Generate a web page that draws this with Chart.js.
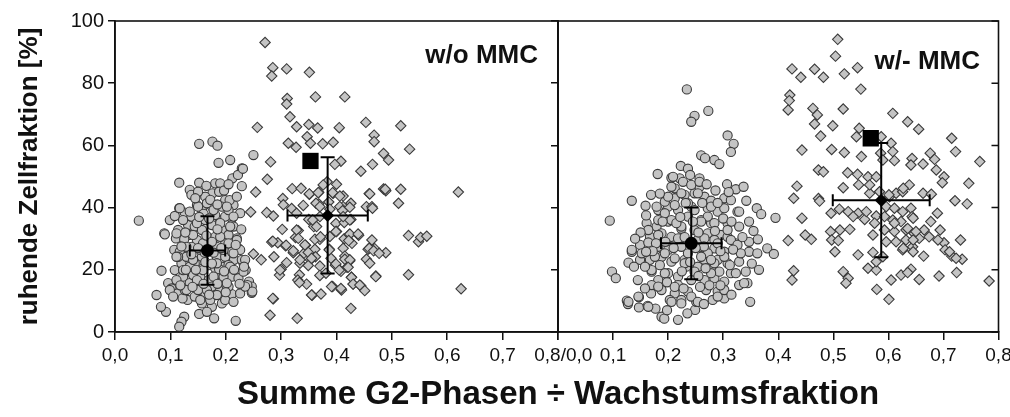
<!DOCTYPE html>
<html lang="de">
<head>
<meta charset="utf-8">
<title>Ruhende Zellfraktion</title>
<script src="https://cdn.jsdelivr.net/npm/chart.js@4.4.1/dist/chart.umd.min.js"></script>
<style>
  html, body { margin: 0; padding: 0; background: #fff; }
  #wrap { position: relative; width: 1010px; height: 417px; overflow: hidden; background: #fff; }
  canvas { position: absolute; left: 0; top: 0; }
  .label { position: absolute; font-family: "Liberation Sans", Arial, sans-serif; font-weight: bold; color: #111; line-height: 1; white-space: nowrap; }
  #lblOhne { font-size: 26px; right: 472px; top: 41px; }
  #lblMit { font-size: 26px; right: 30px; top: 47px; }
  #xTitle { font-size: 33px; left: 0; width: 1116px; text-align: center; top: 376px; }
</style>
</head>
<body>
<div id="wrap">
  <canvas id="links" width="1010" height="417"></canvas>
  <canvas id="rechts" width="1010" height="417"></canvas>
  <div class="label" id="lblOhne">w/o MMC</div>
  <div class="label" id="lblMit">w/- MMC</div>
  <div class="label" id="xTitle">Summe G2-Phasen ÷ Wachstumsfraktion</div>
</div>
<script>
// Achsen
const xLabelsLinks = ['0,0', '0,1', '0,2', '0,3', '0,4', '0,5', '0,6', '0,7', '  0,8/0,0'];
const xLabelsRechts = ['', '0,1', '0,2', '0,3', '0,4', '0,5', '0,6', '0,7', '0,8'];
const yTitel = 'ruhende Zellfraktion [%]';

// w/o MMC: Kreise (linke Wolke) und Rauten
const ohneKreise = [
  [0.043,35.8],[0.116,48.0],[0.152,48.0],[0.135,45.7],[0.138,44.1],[0.187,54.4],[0.208,55.3],[0.229,52.6],[0.212,49.4],[0.250,56.9],
  [0.229,46.9],[0.181,47.8],[0.190,47.8],[0.176,44.6],[0.163,43.5],[0.150,45.1],[0.199,42.4],[0.193,40.3],[0.226,38.2],[0.211,36.6],
  [0.211,34.4],[0.220,30.1],[0.223,26.9],[0.215,23.2],[0.232,22.1],[0.236,19.9],[0.242,16.2],[0.247,14.6],[0.247,12.6],[0.211,12.2],
  [0.193,11.4],[0.193,9.2],[0.175,8.1],[0.179,4.4],[0.218,3.6],[0.152,5.8],[0.125,4.9],[0.120,3.3],[0.116,1.7],[0.092,6.5],
  [0.083,8.1],[0.075,11.9],[0.084,19.7],[0.089,31.7],[0.099,36.0],[0.108,37.3],[0.116,39.8],[0.126,38.4],[0.110,30.1],[0.107,26.4],
  [0.117,25.8],[0.096,15.7],[0.102,14.0],[0.113,12.4],[0.108,19.9],[0.120,22.1],[0.123,17.8],[0.135,15.7],[0.131,10.3],[0.144,11.4],
  [0.157,9.2],[0.163,12.4],[0.172,10.3],[0.132,34.4],[0.144,33.9],[0.157,32.8],[0.175,34.4],[0.190,36.0],[0.135,31.2],[0.148,29.6],
  [0.159,28.5],[0.181,30.6],[0.193,32.8],[0.205,31.2],[0.199,28.5],[0.138,27.4],[0.129,24.2],[0.144,22.1],[0.157,24.2],[0.184,24.2],
  [0.199,24.2],[0.193,21.0],[0.181,17.8],[0.169,16.7],[0.154,17.8],[0.141,18.3],[0.199,16.7],[0.211,17.8],[0.205,14.6],[0.187,13.5],
  [0.175,14.6],[0.150,13.5],[0.122,10.8],[0.211,25.8],[0.214,40.8],[0.229,23.2],[0.175,40.3],[0.157,39.2],[0.138,37.1],[0.181,37.6],
  [0.199,37.1],[0.163,36.0],[0.148,40.8],[0.166,41.4],[0.188,45.1],[0.205,39.2],[0.114,24.2],[0.114,32.8],[0.125,29.8],[0.169,26.4],
  [0.184,27.4],[0.154,26.4],[0.135,21.0],[0.169,21.5],[0.181,20.5],[0.205,21.5],[0.159,20.5],[0.223,17.3],[0.232,19.4],[0.193,16.2],
  [0.126,13.5],[0.199,10.3],[0.214,9.7],[0.166,6.5],
  [0.152,60.5],[0.176,61.2],[0.185,59.9],[0.222,50.5],[0.207,42.4],[0.214,33.9],[0.235,23.2],[0.233,21.0],[0.239,15.1],[0.248,13.0],
  [0.090,31.4],[0.188,20.2],[0.196,17.8],[0.226,26.4],[0.231,52.5],
  [0.117,39.8],[0.135,38.7],[0.150,40.3],[0.178,39.2],[0.202,40.3],[0.214,37.1],[0.123,36.0],[0.148,35.0],[0.190,35.0],[0.208,33.9],
  [0.111,31.7],[0.141,31.2],[0.190,30.6],[0.220,29.6],[0.129,27.4],[0.196,26.4],[0.214,25.3],[0.111,24.2],[0.141,23.2],[0.184,22.1],
  [0.208,21.0],[0.123,19.9],[0.159,19.9],[0.178,17.8],[0.111,16.7],[0.148,16.7],[0.202,15.7],[0.129,13.5],[0.166,13.5],[0.184,11.9],
  [0.154,10.3],[0.226,12.4],[0.235,14.6],[0.099,13.5],[0.105,11.4],
  [0.145,43.0],[0.172,42.5],[0.185,41.0],[0.160,38.0],[0.170,36.5],[0.152,37.0],[0.185,33.0],[0.165,31.0],[0.175,29.0],[0.150,27.0],
  [0.162,25.5],[0.178,25.5],[0.192,27.0],[0.205,28.5],[0.138,25.0],[0.146,20.0],[0.163,22.5],[0.175,22.0],[0.197,19.5],[0.215,20.0],
  [0.160,15.5],[0.185,15.5],[0.170,12.0],[0.140,14.5],[0.118,15.0],[0.128,20.0],[0.200,12.8],[0.225,15.5],[0.218,28.0],[0.228,33.0],
  [0.127,32.0],[0.120,27.5],[0.197,45.5],[0.220,43.5],[0.165,47.0],[0.205,47.5]
];
const ohneRauten = [
  [0.271,93.1],[0.285,85.0],[0.283,82.3],[0.310,84.6],[0.351,83.5],[0.311,75.1],[0.362,75.6],[0.415,75.6],[0.310,73.3],[0.316,69.2],
  [0.257,65.8],[0.328,66.0],[0.350,66.7],[0.366,65.6],[0.405,65.7],[0.453,67.4],[0.516,66.3],[0.347,62.8],[0.468,63.3],[0.468,61.2],
  [0.313,60.7],[0.327,59.4],[0.353,60.7],[0.375,60.5],[0.394,61.0],[0.532,58.8],[0.485,57.4],[0.494,55.3],[0.281,54.7],[0.408,54.9],
  [0.397,53.9],[0.465,53.9],[0.444,51.7],[0.275,49.1],[0.383,48.3],[0.400,47.5],[0.254,45.0],[0.320,46.1],[0.336,46.2],[0.351,44.3],
  [0.368,44.9],[0.394,44.6],[0.412,43.7],[0.459,44.5],[0.485,46.0],[0.516,45.9],[0.489,45.4],[0.620,45.0],[0.303,42.9],[0.304,40.9],
  [0.319,39.7],[0.340,40.7],[0.368,41.2],[0.386,41.8],[0.412,40.3],[0.426,41.4],[0.454,40.3],[0.464,40.3],[0.512,41.4],[0.245,38.6],
  [0.274,38.4],[0.286,37.3],[0.328,38.2],[0.350,36.2],[0.370,37.1],[0.359,33.9],[0.399,34.9],[0.414,35.2],[0.426,36.2],[0.302,33.0],
  [0.331,32.6],[0.400,32.3],[0.326,30.4],[0.370,29.8],[0.388,30.7],[0.414,30.0],[0.423,31.3],[0.440,31.1],[0.464,29.6],[0.530,31.0],
  [0.548,29.0],[0.552,30.4],[0.563,30.8],[0.283,28.9],[0.294,28.7],[0.308,27.7],[0.344,27.9],[0.361,26.6],[0.387,26.6],[0.412,26.9],
  [0.428,28.5],[0.457,26.6],[0.469,26.8],[0.489,25.5],[0.322,25.5],[0.250,25.1],[0.264,23.2],[0.287,24.2],[0.341,25.3],[0.362,24.2],
  [0.353,23.2],[0.390,23.7],[0.415,24.4],[0.424,22.9],[0.454,23.4],[0.460,22.1],[0.310,22.3],[0.334,22.1],[0.349,21.4],[0.370,21.2],
  [0.398,21.5],[0.419,20.8],[0.300,20.2],[0.297,18.3],[0.333,18.4],[0.330,16.7],[0.346,15.4],[0.370,18.2],[0.408,19.5],[0.427,17.6],
  [0.430,15.4],[0.444,14.8],[0.451,13.3],[0.471,18.0],[0.530,18.4],[0.393,14.6],[0.409,13.5],[0.356,11.8],[0.372,12.2],[0.286,10.7],
  [0.625,13.9],[0.426,7.6],[0.280,5.4],[0.329,4.4],
  [0.351,44.4],[0.367,44.8],[0.376,47.3],[0.393,44.8],[0.406,43.7],[0.363,41.4],[0.370,40.3],[0.388,39.5],[0.406,40.3],[0.411,39.0],
  [0.424,40.1],[0.424,36.0],[0.412,37.1],[0.357,36.0],[0.364,33.9],[0.328,32.8],[0.331,30.1],[0.399,32.3],[0.424,31.5],[0.439,31.5],
  [0.422,29.4],[0.459,26.9],[0.467,26.1],[0.477,25.3],[0.285,29.2],[0.309,27.9],[0.322,26.1],[0.343,28.0],[0.361,29.8],[0.371,30.6],
  [0.349,25.6],[0.355,23.7],[0.334,23.2],[0.387,26.4],[0.399,21.9],[0.415,23.4],[0.424,23.2],[0.405,19.9],[0.421,20.8],[0.427,17.6],
  [0.298,19.9],[0.333,15.9],[0.381,18.9],[0.391,14.6],[0.408,14.0],[0.430,15.4],[0.442,15.1],[0.471,17.8],[0.355,11.9],[0.285,10.8],
  [0.465,39.8],[0.460,44.4],[0.488,45.9]
];

// w/- MMC
const mitKreise = [
  [0.234,78.0],[0.248,69.5],[0.242,67.6],[0.273,71.1],[0.308,63.2],[0.319,60.5],[0.314,57.9],[0.260,56.8],[0.267,55.9],[0.284,55.3],
  [0.293,54.0],[0.181,50.8],[0.223,53.4],[0.236,52.5],[0.206,49.6],[0.221,49.4],[0.257,49.4],[0.307,47.5],[0.323,45.9],[0.337,46.7],
  [0.134,42.2],[0.169,44.1],[0.212,46.2],[0.230,44.1],[0.248,44.6],[0.266,43.5],[0.302,43.0],[0.314,42.4],[0.342,42.2],[0.361,39.8],
  [0.369,37.9],[0.395,36.7],[0.094,35.8],[0.159,40.6],[0.182,39.2],[0.200,40.3],[0.218,39.2],[0.272,39.8],[0.290,38.7],[0.326,38.7],
  [0.347,35.5],[0.161,35.0],[0.179,33.9],[0.200,35.5],[0.260,36.0],[0.278,35.0],[0.308,35.0],[0.329,33.9],[0.167,30.6],[0.188,31.7],
  [0.206,30.6],[0.224,33.2],[0.272,31.7],[0.296,31.2],[0.308,30.6],[0.323,28.5],[0.347,29.0],[0.363,29.8],[0.380,26.9],[0.392,25.1],
  [0.149,28.0],[0.164,28.8],[0.182,27.4],[0.200,26.4],[0.224,27.4],[0.260,27.4],[0.284,26.9],[0.302,25.8],[0.347,25.8],[0.362,25.3],
  [0.134,25.8],[0.128,22.3],[0.149,23.2],[0.167,23.2],[0.188,24.2],[0.206,22.6],[0.230,23.2],[0.266,23.2],[0.290,23.2],[0.308,22.1],
  [0.329,22.6],[0.098,19.4],[0.105,17.3],[0.145,16.7],[0.170,19.4],[0.182,16.7],[0.200,18.9],[0.218,17.8],[0.242,16.7],[0.266,16.7],
  [0.284,17.3],[0.302,16.2],[0.314,18.9],[0.341,19.4],[0.329,15.1],[0.344,15.7],[0.169,12.4],[0.188,13.5],[0.212,12.4],[0.236,13.0],
  [0.269,13.5],[0.290,13.0],[0.302,10.8],[0.281,10.3],[0.349,9.7],[0.125,10.1],[0.127,9.0],[0.147,11.2],[0.147,7.9],[0.163,8.4],
  [0.177,7.5],[0.188,4.9],[0.193,4.3],[0.218,3.9],[0.203,10.3],[0.224,10.3],[0.249,7.1],[0.251,9.7],[0.170,15.1],[0.233,21.0],
  [0.218,15.1],[0.254,21.0],[0.278,19.9],[0.293,19.4],[0.182,36.0],[0.236,37.1],[0.248,32.8],[0.272,37.1],[0.218,30.1],[0.254,29.6],
  [0.284,29.6],[0.236,25.3],[0.272,25.3],[0.242,40.3],[0.227,48.3],[0.257,46.7],[0.212,43.0],[0.278,42.2],[0.194,38.2],[0.284,22.1],
  [0.323,18.9],
  [0.209,49.9],[0.242,47.3],[0.257,48.3],[0.254,44.6],[0.224,44.6],[0.206,46.7],[0.179,40.3],[0.194,41.9],[0.212,40.8],[0.236,41.4],
  [0.248,39.2],[0.278,40.3],[0.302,39.8],[0.329,38.7],[0.206,36.0],[0.224,33.9],[0.260,35.5],[0.284,35.0],[0.308,32.8],[0.164,32.8],
  [0.182,31.2],[0.266,30.1],[0.290,28.5],[0.314,29.6],[0.326,28.0],[0.134,26.4],[0.152,25.3],[0.176,24.2],[0.194,25.3],[0.212,23.7],
  [0.230,22.1],[0.260,24.2],[0.278,23.2],[0.302,24.2],[0.332,25.3],[0.170,19.9],[0.194,18.9],[0.248,19.4],[0.278,18.9],[0.338,15.7],
  [0.182,14.6],[0.242,11.4],[0.290,11.4],[0.302,13.5],[0.206,9.7],[0.224,9.2],[0.254,9.7],[0.146,11.4],[0.164,8.1],[0.128,9.7],
  [0.190,35.5],[0.215,35.0],[0.230,30.5],[0.245,35.5],[0.255,32.0],[0.265,27.5],[0.250,27.0],[0.240,22.5],[0.255,18.0],[0.268,20.5],
  [0.225,19.5],[0.210,27.0],[0.195,29.0],[0.178,28.5],[0.172,26.0],[0.158,21.0],[0.160,25.8],[0.185,21.5],[0.198,16.0],[0.212,14.5],
  [0.228,14.0],[0.258,14.5],[0.275,15.0],[0.295,15.0],[0.312,21.5],[0.318,26.5],[0.295,26.0],[0.285,32.5],[0.300,36.5],[0.315,35.5],
  [0.232,41.5],[0.262,41.5],[0.290,41.5],[0.200,43.5],[0.222,37.0],[0.185,44.5],[0.240,50.5],[0.270,47.5],[0.286,45.5],[0.160,37.5],
  [0.150,32.0],[0.140,30.0],[0.138,21.0],[0.158,14.0],[0.198,7.0],[0.235,6.0],[0.265,9.0],[0.315,12.0],[0.335,30.5],[0.355,32.5],
  [0.352,22.0],[0.365,20.0],[0.310,45.0]
];
const mitRauten = [
  [0.508,94.1],[0.504,88.7],[0.425,84.6],[0.441,81.9],[0.466,84.5],[0.482,81.9],[0.520,83.0],[0.544,85.0],[0.550,78.1],[0.421,76.2],
  [0.420,74.4],[0.418,71.4],[0.463,71.9],[0.471,69.8],[0.466,66.9],[0.499,66.3],[0.518,71.7],[0.608,70.3],[0.635,67.6],[0.655,65.2],
  [0.477,63.0],[0.443,58.5],[0.497,58.7],[0.520,57.7],[0.547,65.5],[0.542,62.8],[0.551,56.4],[0.587,62.8],[0.605,60.7],[0.586,57.5],
  [0.608,58.0],[0.590,55.3],[0.611,55.1],[0.643,55.8],[0.663,54.0],[0.676,57.5],[0.684,55.5],[0.715,62.3],[0.722,58.0],[0.766,54.8],
  [0.641,53.7],[0.473,52.1],[0.482,51.5],[0.526,51.2],[0.544,50.7],[0.563,49.9],[0.687,52.1],[0.701,49.9],[0.698,48.0],[0.746,47.8],
  [0.434,46.9],[0.428,43.0],[0.473,42.9],[0.475,42.1],[0.518,46.4],[0.546,47.3],[0.566,44.6],[0.584,45.1],[0.602,43.5],[0.614,44.6],
  [0.626,45.1],[0.638,47.3],[0.663,44.6],[0.678,44.3],[0.721,42.2],[0.743,41.2],[0.496,38.2],[0.511,39.5],[0.527,38.7],[0.545,38.2],
  [0.536,37.1],[0.557,36.2],[0.578,37.3],[0.596,40.3],[0.611,39.8],[0.626,38.7],[0.641,39.8],[0.643,37.1],[0.623,35.5],[0.608,36.0],
  [0.689,38.2],[0.677,35.5],[0.443,36.6],[0.495,32.3],[0.512,32.8],[0.530,33.0],[0.572,31.2],[0.593,32.8],[0.611,32.3],[0.632,32.8],
  [0.647,31.7],[0.665,32.8],[0.694,32.8],[0.674,30.6],[0.656,30.1],[0.632,29.6],[0.614,29.0],[0.596,29.0],[0.701,28.7],[0.731,29.6],
  [0.418,29.4],[0.449,31.2],[0.460,29.8],[0.497,29.6],[0.509,29.4],[0.503,25.8],[0.545,24.8],[0.572,25.6],[0.626,26.4],[0.644,27.4],
  [0.664,24.4],[0.703,26.4],[0.715,24.4],[0.734,23.4],[0.590,24.2],[0.428,19.7],[0.425,16.7],[0.518,19.4],[0.527,17.3],[0.523,15.7],
  [0.563,20.5],[0.578,19.9],[0.605,16.7],[0.623,18.3],[0.641,20.2],[0.656,16.9],[0.692,18.0],[0.724,19.1],[0.783,16.4],[0.579,13.7],
  [0.601,10.5],
  [0.601,44.1],[0.627,46.2],[0.593,37.1],[0.611,35.0],[0.645,36.6],[0.635,33.3],[0.650,32.3],[0.690,29.6],[0.645,29.6],[0.627,26.9],
  [0.645,25.8],[0.711,25.8],[0.723,23.7],[0.575,35.0],[0.560,38.7],[0.566,47.3],[0.578,49.9],[0.578,22.6],[0.635,19.1]
];

// Mittelwerte mit Standardabweichung, dazu das schwarze Quadrat
const ohneMittel = [[0.167, 26.2], [0.384, 37.5]];
const ohneSdX = [0.032, 0.0725];
const ohneSdY = [11.0, 18.65];
const ohneQuadrat = [[0.353, 55.0]];
const mitMittel = [[0.242, 28.5], [0.587, 42.4]];
const mitSdX = [0.055, 0.088];
const mitSdY = [11.5, 18.35];
const mitQuadrat = [[0.568, 62.3]];

const pt = arr => arr.map(p => ({ x: p[0], y: p[1] }));
const grau = '#c4c4c4', rand = '#3a3a3a';
const tickFont = { family: '"Liberation Sans", Arial, sans-serif', size: 19 };

function wolke(daten, form, r, order) {
  return {
    data: pt(daten), pointStyle: form, pointRadius: r,
    pointBackgroundColor: grau, pointBorderColor: rand, pointBorderWidth: 1.1, order: order
  };
}

function mittelSets(mittel, quadrat) {
  return [
    { data: pt([mittel[0]]), pointStyle: 'circle', pointRadius: 6.5, pointBackgroundColor: '#000', pointBorderColor: '#000', pointBorderWidth: 0, order: 0 },
    { data: pt([mittel[1]]), pointStyle: 'rectRot', pointRadius: 6.5, pointBackgroundColor: '#000', pointBorderColor: '#000', pointBorderWidth: 0, order: 0 },
    { data: pt(quadrat), pointStyle: 'rect', pointRadius: 11.5, pointBackgroundColor: '#000', pointBorderColor: '#000', pointBorderWidth: 0, order: 0 }
  ];
}

const fehlerbalken = {
  id: 'fehlerbalken',
  afterDatasetsDraw(chart, args, o) {
    const { ctx } = chart;
    const x = chart.scales.x, y = chart.scales.y;
    ctx.save();
    ctx.strokeStyle = '#000';
    ctx.lineWidth = 2;
    o.mittel.forEach((m, i) => {
      const cx = x.getPixelForValue(m[0]), cy = y.getPixelForValue(m[1]);
      const x0 = x.getPixelForValue(m[0] - o.sdX[i]), x1 = x.getPixelForValue(m[0] + o.sdX[i]);
      const y0 = y.getPixelForValue(m[1] - o.sdY[i]), y1 = y.getPixelForValue(m[1] + o.sdY[i]);
      ctx.beginPath();
      ctx.moveTo(x0, cy); ctx.lineTo(x1, cy);
      ctx.moveTo(cx, y0); ctx.lineTo(cx, y1);
      ctx.moveTo(x0, cy - 6); ctx.lineTo(x0, cy + 6);
      ctx.moveTo(x1, cy - 6); ctx.lineTo(x1, cy + 6);
      ctx.moveTo(cx - 7, y0); ctx.lineTo(cx + 7, y0);
      ctx.moveTo(cx - 7, y1); ctx.lineTo(cx + 7, y1);
      ctx.stroke();
    });
    ctx.restore();
  },
  afterDraw(chart, args, o) {
    const { ctx, chartArea: a } = chart;
    ctx.save();
    ctx.strokeStyle = '#111';
    ctx.lineWidth = 1.6;
    ctx.strokeRect(a.left, a.top, a.right - a.left, a.bottom - a.top);
    if (o.innenTicks) {
      // kleine Striche nach innen am rechten Rand
      const y = chart.scales.y;
      ctx.lineWidth = 1.5;
      ctx.beginPath();
      y.ticks.forEach(t => {
        const py = y.getPixelForValue(t.value);
        ctx.moveTo(a.right - 7, py); ctx.lineTo(a.right, py);
      });
      ctx.stroke();
    }
    ctx.restore();
  }
};

function xAchse(labels) {
  return {
    type: 'linear', min: 0, max: 0.8,
    border: { display: true, color: '#111', width: 1.6 },
    grid: { drawOnChartArea: false, drawTicks: true, tickLength: 8, color: '#111', lineWidth: 1.5 },
    ticks: { stepSize: 0.1, color: '#111', font: tickFont, padding: 4, maxRotation: 0, autoSkip: false,
             callback: (v, i) => labels[i] },
    afterFit(s) { s.height = 85; s.paddingLeft = 0; s.paddingRight = 0; }
  };
}

function yGrenzen(s) { s.paddingTop = 0; s.paddingBottom = 0; }

// linkes Feld: w/o MMC
new Chart(document.getElementById('links'), {
  type: 'scatter',
  data: { datasets: [
    ...mittelSets(ohneMittel, ohneQuadrat),
    wolke(ohneRauten, 'rectRot', 5.2, 1),
    wolke(ohneKreise, 'circle', 4.6, 2)
  ] },
  options: {
    responsive: false, animation: false, events: [],
    layout: { padding: { left: 0, right: 452, top: 21, bottom: 0 } },
    plugins: { legend: { display: false }, tooltip: { enabled: false },
      fehlerbalken: { mittel: ohneMittel, sdX: ohneSdX, sdY: ohneSdY, innenTicks: false } },
    scales: {
      x: xAchse(xLabelsLinks),
      y: {
        type: 'linear', min: 0, max: 100, position: 'left',
        border: { display: true, color: '#111', width: 1.6 },
        grid: { drawOnChartArea: false, drawTicks: true, tickLength: 7, color: '#111', lineWidth: 1.5 },
        ticks: { stepSize: 20, color: '#111', padding: 4,
                 font: { family: '"Liberation Sans", Arial, sans-serif', size: 20 } },
        title: { display: true, text: yTitel, color: '#111', padding: { top: 14, bottom: 0 },
                 font: { family: '"Liberation Sans", Arial, sans-serif', size: 26, weight: 'bold', lineHeight: 1.2 } },
        afterFit(s) { s.width = 115; yGrenzen(s); }
      }
    }
  },
  plugins: [fehlerbalken]
});

// rechtes Feld: w/- MMC
new Chart(document.getElementById('rechts'), {
  type: 'scatter',
  data: { datasets: [
    ...mittelSets(mitMittel, mitQuadrat),
    wolke(mitRauten, 'rectRot', 5.2, 1),
    wolke(mitKreise, 'circle', 4.6, 2)
  ] },
  options: {
    responsive: false, animation: false, events: [],
    layout: { padding: { left: 551, right: 8, top: 21, bottom: 0 } },
    plugins: { legend: { display: false }, tooltip: { enabled: false },
      fehlerbalken: { mittel: mitMittel, sdX: mitSdX, sdY: mitSdY, innenTicks: true } },
    scales: {
      x: xAchse(xLabelsRechts),
      y: {
        type: 'linear', min: 0, max: 100, position: 'left',
        border: { display: true, color: '#111', width: 1.6 },
        grid: { drawOnChartArea: false, drawTicks: true, tickLength: 7, color: '#111', lineWidth: 1.5 },
        ticks: { stepSize: 20, display: false },
        afterFit(s) { s.width = 7; yGrenzen(s); }
      }
    }
  },
  plugins: [fehlerbalken]
});
</script>
</body>
</html>
